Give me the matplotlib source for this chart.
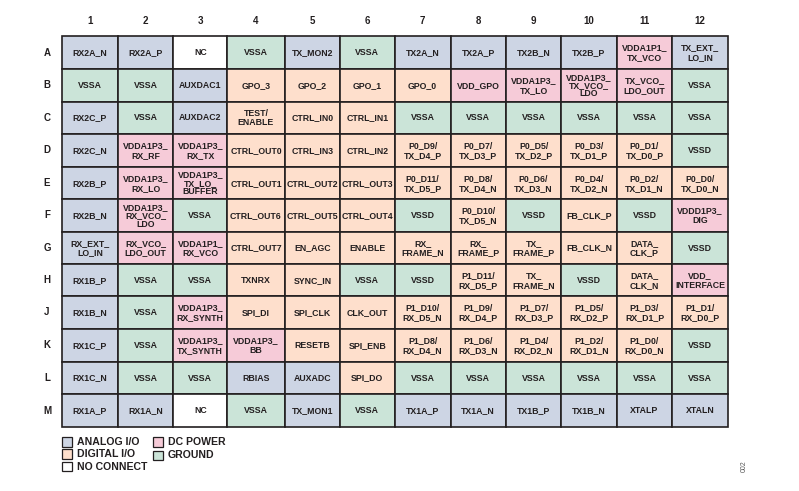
import matplotlib
matplotlib.use('Agg')
import matplotlib.pyplot as plt
from matplotlib.patches import Rectangle

plt.rcParams['font.family'] = ['Liberation Sans', 'DejaVu Sans']

col_labels = ['1', '2', '3', '4', '5', '6', '7', '8', '9', '10', '11', '12']
row_labels = ['A', 'B', 'C', 'D', 'E', 'F', 'G', 'H', 'J', 'K', 'L', 'M']

pins = [
    ['RX2A_N', 'RX2A_P', 'NC', 'VSSA', 'TX_MON2', 'VSSA', 'TX2A_N', 'TX2A_P', 'TX2B_N', 'TX2B_P', 'VDDA1P1_\nTX_VCO', 'TX_EXT_\nLO_IN'],
    ['VSSA', 'VSSA', 'AUXDAC1', 'GPO_3', 'GPO_2', 'GPO_1', 'GPO_0', 'VDD_GPO', 'VDDA1P3_\nTX_LO', 'VDDA1P3_\nTX_VCO_\nLDO', 'TX_VCO_\nLDO_OUT', 'VSSA'],
    ['RX2C_P', 'VSSA', 'AUXDAC2', 'TEST/\nENABLE', 'CTRL_IN0', 'CTRL_IN1', 'VSSA', 'VSSA', 'VSSA', 'VSSA', 'VSSA', 'VSSA'],
    ['RX2C_N', 'VDDA1P3_\nRX_RF', 'VDDA1P3_\nRX_TX', 'CTRL_OUT0', 'CTRL_IN3', 'CTRL_IN2', 'P0_D9/\nTX_D4_P', 'P0_D7/\nTX_D3_P', 'P0_D5/\nTX_D2_P', 'P0_D3/\nTX_D1_P', 'P0_D1/\nTX_D0_P', 'VSSD'],
    ['RX2B_P', 'VDDA1P3_\nRX_LO', 'VDDA1P3_\nTX_LO_\nBUFFER', 'CTRL_OUT1', 'CTRL_OUT2', 'CTRL_OUT3', 'P0_D11/\nTX_D5_P', 'P0_D8/\nTX_D4_N', 'P0_D6/\nTX_D3_N', 'P0_D4/\nTX_D2_N', 'P0_D2/\nTX_D1_N', 'P0_D0/\nTX_D0_N'],
    ['RX2B_N', 'VDDA1P3_\nRX_VCO_\nLDO', 'VSSA', 'CTRL_OUT6', 'CTRL_OUT5', 'CTRL_OUT4', 'VSSD', 'P0_D10/\nTX_D5_N', 'VSSD', 'FB_CLK_P', 'VSSD', 'VDDD1P3_\nDIG'],
    ['RX_EXT_\nLO_IN', 'RX_VCO_\nLDO_OUT', 'VDDA1P1_\nRX_VCO', 'CTRL_OUT7', 'EN_AGC', 'ENABLE', 'RX_\nFRAME_N', 'RX_\nFRAME_P', 'TX_\nFRAME_P', 'FB_CLK_N', 'DATA_\nCLK_P', 'VSSD'],
    ['RX1B_P', 'VSSA', 'VSSA', 'TXNRX', 'SYNC_IN', 'VSSA', 'VSSD', 'P1_D11/\nRX_D5_P', 'TX_\nFRAME_N', 'VSSD', 'DATA_\nCLK_N', 'VDD_\nINTERFACE'],
    ['RX1B_N', 'VSSA', 'VDDA1P3_\nRX_SYNTH', 'SPI_DI', 'SPI_CLK', 'CLK_OUT', 'P1_D10/\nRX_D5_N', 'P1_D9/\nRX_D4_P', 'P1_D7/\nRX_D3_P', 'P1_D5/\nRX_D2_P', 'P1_D3/\nRX_D1_P', 'P1_D1/\nRX_D0_P'],
    ['RX1C_P', 'VSSA', 'VDDA1P3_\nTX_SYNTH', 'VDDA1P3_\nBB', 'RESETB', 'SPI_ENB', 'P1_D8/\nRX_D4_N', 'P1_D6/\nRX_D3_N', 'P1_D4/\nRX_D2_N', 'P1_D2/\nRX_D1_N', 'P1_D0/\nRX_D0_N', 'VSSD'],
    ['RX1C_N', 'VSSA', 'VSSA', 'RBIAS', 'AUXADC', 'SPI_DO', 'VSSA', 'VSSA', 'VSSA', 'VSSA', 'VSSA', 'VSSA'],
    ['RX1A_P', 'RX1A_N', 'NC', 'VSSA', 'TX_MON1', 'VSSA', 'TX1A_P', 'TX1A_N', 'TX1B_P', 'TX1B_N', 'XTALP', 'XTALN'],
]

# pin type per cell: a analog, d digital, p power, g ground, n no connect
kinds = [
    'aangagaaaapa',
    'ggaddddppppg',
    'agadddgggggg',
    'appddddddddg',
    'appddddddddd',
    'apgdddgdgdgp',
    'appddddddddg',
    'aggddggddgdp',
    'agpddddddddd',
    'agppdddddddg',
    'aggaadgggggg',
    'aangagaaaaaa',
]

kind_colors = {'a': '#cdd5e4', 'd': '#fedfcc', 'p': '#f6cbd8', 'g': '#cbe4d8', 'n': '#ffffff'}
legend_items = [('a', 'ANALOG I/O'), ('d', 'DIGITAL I/O'), ('n', 'NO CONNECT'), ('p', 'DC POWER'), ('g', 'GROUND')]

# grid lines, in pixels of the picture
x_edges = [62, 117.7, 173.3, 227.3, 284.7, 340, 394.5, 450.7, 505.7, 561.3, 616.7, 672.3, 728]
y_edges = [36, 69, 101.5, 134, 166.7, 199.3, 231.7, 264, 296, 328.7, 361.7, 394, 427]
ink = '#231f20'
line_gap = {1: 1.0, 2: 1.12, 3: 0.9}

fig = plt.figure(figsize=(7.99, 4.91), dpi=100)
ax = fig.add_axes([0, 0, 1, 1])
ax.set_xlim(0, 799)
ax.set_ylim(491, 0)
ax.axis('off')

for r, row in enumerate(pins):
    y0, y1 = y_edges[r], y_edges[r + 1]
    for c, name in enumerate(row):
        x0, x1 = x_edges[c], x_edges[c + 1]
        ax.add_patch(Rectangle((x0, y0), x1 - x0, y1 - y0, facecolor=kind_colors[kinds[r][c]],
                               edgecolor=ink, linewidth=1.2))
        ax.text((x0 + x1) / 2, (y0 + y1) / 2 + 0.2, name, ha='center', va='center', fontsize=6.3,
                fontweight='bold', color=ink, linespacing=line_gap[name.count('\n') + 1])

for c, lab in enumerate(col_labels):
    ax.text((x_edges[c] + x_edges[c + 1]) / 2, 21, lab, ha='center', va='center', fontsize=7,
            fontweight='bold', color=ink)
for r, lab in enumerate(row_labels):
    ax.text(47, (y_edges[r] + y_edges[r + 1]) / 2, lab, ha='center', va='center', fontsize=7,
            fontweight='bold', color=ink)

# legend
legend_pos = [(62, 441.7), (62, 454), (62, 466.5), (153, 441.7), (153, 455.5)]
for (k, lab), (lx, ly) in zip(legend_items, legend_pos):
    ax.add_patch(Rectangle((lx, ly - 4.7), 9.5, 9.5, facecolor=kind_colors[k], edgecolor=ink, linewidth=0.9))
    ax.text(lx + 15, ly, lab, ha='left', va='center', fontsize=7.55, fontweight='bold', color=ink)

ax.text(744, 466.5, '002', rotation=90, ha='center', va='center', fontsize=5, color='#555555')

fig.savefig('out.png', dpi=100)
